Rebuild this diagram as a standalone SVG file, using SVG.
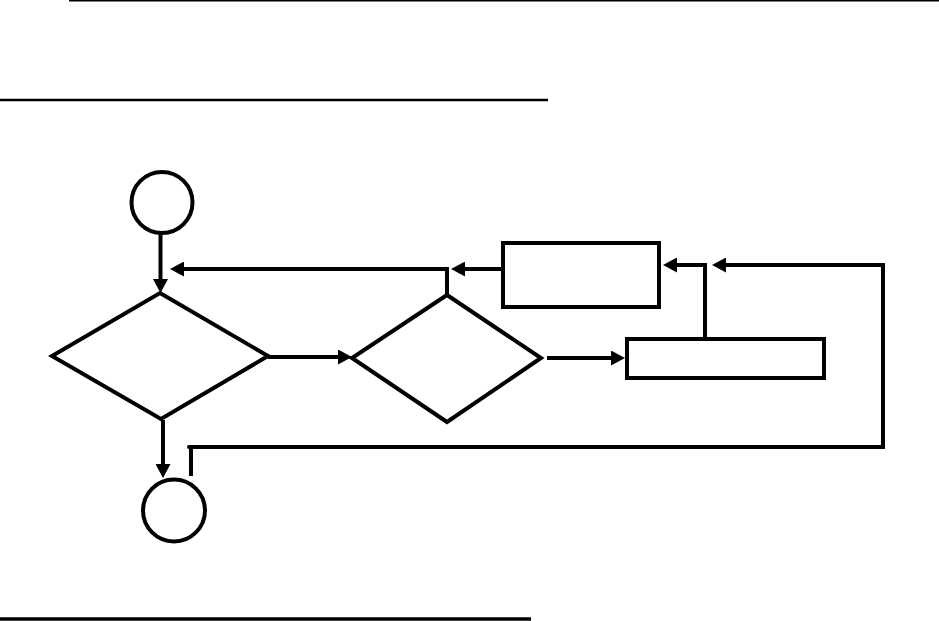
<svg xmlns="http://www.w3.org/2000/svg" width="939" height="621" viewBox="0 0 939 621">
<style>
.n{fill:#fff;stroke:#000;stroke-width:4;stroke-linejoin:miter}
.c{fill:none;stroke:#000;stroke-width:4;stroke-linejoin:miter}
.rule{stroke:#000;fill:none}
</style>
<defs>
<marker id="ah" viewBox="0 0 14 15" refX="0" refY="7.5" markerWidth="14" markerHeight="15" markerUnits="userSpaceOnUse" orient="auto">
<path d="M0,0 L14,7.5 L0,15 z" fill="#000"/>
</marker>
</defs>
<rect width="939" height="621" fill="#fff"/>
<g id="rules">
<path class="rule" d="M69 0.75 H939" stroke-width="1.5"/>
<path class="rule" d="M0 100 H548" stroke-width="2.5"/>
<path class="rule" d="M0 619 H531" stroke-width="3.5"/>
</g>
<g id="start"><circle class="n" cx="162" cy="202.5" r="30.5"/></g>
<g id="decision1"><polygon class="n" points="160,293 268,356 161,419 52,356"/></g>
<g id="decision2"><polygon class="n" points="447,295 541,358 447,422 352,358"/></g>
<g id="box1"><rect class="n" x="503" y="243" width="156" height="64"/></g>
<g id="box2"><rect class="n" x="627" y="339" width="197" height="39"/></g>
<g id="end"><circle class="n" cx="174" cy="510.5" r="31"/></g>
<g id="connectors">
<path class="c" d="M160.5 233 V279" marker-end="url(#ah)"/>
<path class="c" d="M268 357 H338" marker-end="url(#ah)"/>
<path class="c" d="M547 358 H611" marker-end="url(#ah)"/>
<path class="c" d="M447 295 V269 H184" marker-end="url(#ah)"/>
<path class="c" d="M501 269 H465" marker-end="url(#ah)"/>
<path class="c" d="M705 337 V265 H677" marker-end="url(#ah)"/>
<path class="c" d="M191 476 V447"/>
<path class="c" d="M189 447 H883 V265 H726" stroke-linecap="round" marker-end="url(#ah)"/>
<path class="c" d="M163 420 V464" stroke-width="4.5" marker-end="url(#ah)"/>
</g>
</svg>
